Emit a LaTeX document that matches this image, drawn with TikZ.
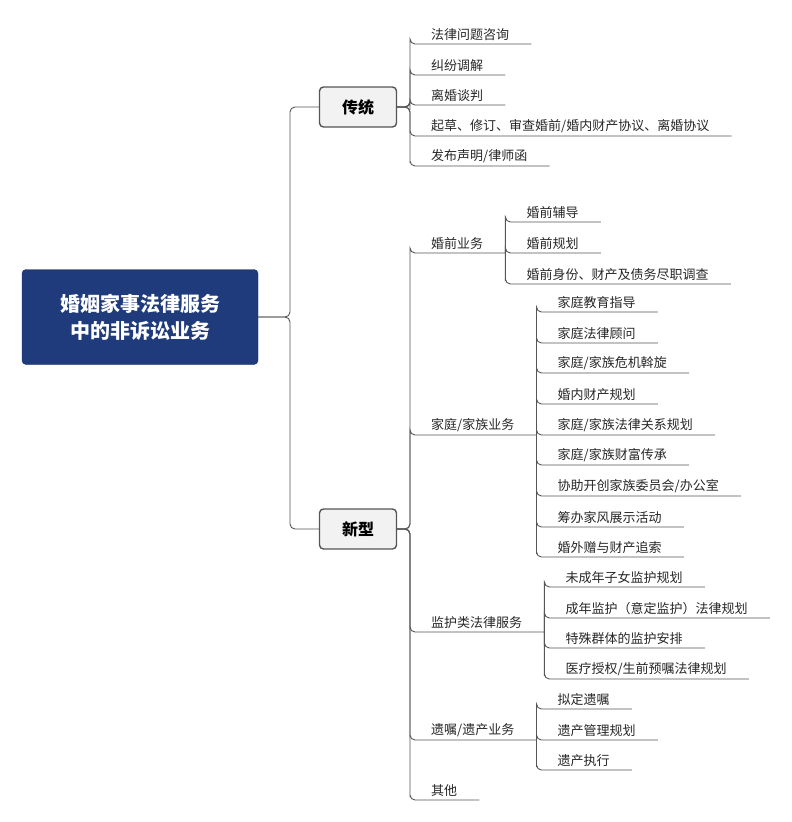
\documentclass[tikz,border=0pt]{standalone}
\usepackage{fontspec}
\setmainfont{Noto Sans CJK SC}
\usetikzlibrary{positioning}
\definecolor{rootblue}{HTML}{1F3B7B}
\definecolor{linegray}{HTML}{555555}
\definecolor{boxfill}{HTML}{F2F2F2}
\tikzset{
  rootbox/.style={draw=rootblue!80!black, fill=rootblue, rounded corners=4pt, text=white,
    font=\fontsize{20}{27}\selectfont\bfseries, align=center, minimum width=236pt, minimum height=95pt},
  mainbox/.style={draw=linegray, fill=boxfill, line width=1.4pt, rounded corners=4pt,
    font=\fontsize{16}{18}\selectfont\bfseries, minimum width=77pt, minimum height=40pt},
  item/.style={anchor=south west, inner xsep=0pt, inner ysep=3pt, text=black!85,
    font=\fontsize{13}{15}\selectfont,
    execute at begin node=\hspace{21pt}, execute at end node=\hspace{22pt}},
  conn/.style={draw=linegray, line width=0.9pt, rounded corners=5pt}
}
\begin{document}
\begin{tikzpicture}[x=1pt,y=-1pt]
      \useasboundingbox (0,0) rectangle (792,822);
      % root and main branches
      \node[rootbox] (root) at (140,317) {婚姻家事法律服务\\中的非诉讼业务};
      \node[mainbox] (ct) at (358,107) {传统};
      \node[mainbox] (xx) at (358,529) {新型};

      \draw[conn] (root.east) -- (290,317) |- (ct.west);
      \draw[conn] (root.east) -- (290,317) |- (xx.west);

      % traditional items
      \node[item] (t1) at (410,44) {法律问题咨询};
      \node[item] (t2) at (410,75) {纠纷调解};
      \node[item] (t3) at (410,105) {离婚谈判};
      \node[item] (t4) at (410,136) {起草、修订、审查婚前/婚内财产协议、离婚协议};
      \node[item] (t5) at (410,166) {发布声明/律师函};

      \foreach \c in {t1,t2,t3,t4,t5}
        \draw[conn] (ct.east) -- (410,107) |- (\c.south west) -- (\c.south east);

      % new items
      \node[item] (hq) at (410,253) {婚前业务};
      \node[item] (jt) at (410,435) {家庭/家族业务};
      \node[item] (jh) at (410,632) {监护类法律服务};
      \node[item] (yz) at (410,740) {遗嘱/遗产业务};
      \node[item] (qt) at (410,800) {其他};

      \foreach \c in {hq,jt,jh,yz,qt}
        \draw[conn] (xx.east) -- (410,529) |- (\c.south west) -- (\c.south east);

      % premarital
      \node[item] (hq1) at ([yshift=31]hq.south east) {婚前辅导};
      \node[item] (hq2) at (hq.south east) {婚前规划};
      \node[item] (hq3) at ([yshift=-31]hq.south east) {婚前身份、财产及债务尽职调查};
      \foreach \c in {hq1,hq2,hq3}
        \draw[conn] (hq.south east) |- (\c.south west) -- (\c.south east);

      % family
      \node[item] (jt1) at ([yshift=123]jt.south east) {家庭教育指导};
      \node[item] (jt2) at ([yshift=92]jt.south east) {家庭法律顾问};
      \node[item] (jt3) at ([yshift=62]jt.south east) {家庭/家族危机斡旋};
      \node[item] (jt4) at ([yshift=31]jt.south east) {婚内财产规划};
      \node[item] (jt5) at (jt.south east) {家庭/家族法律关系规划};
      \node[item] (jt6) at ([yshift=-30]jt.south east) {家庭/家族财富传承};
      \node[item] (jt7) at ([yshift=-61]jt.south east) {协助开创家族委员会/办公室};
      \node[item] (jt8) at ([yshift=-92]jt.south east) {筹办家风展示活动};
      \node[item] (jt9) at ([yshift=-122]jt.south east) {婚外赠与财产追索};
      \foreach \c in {jt1,jt2,jt3,jt4,jt5,jt6,jt7,jt8,jt9}
        \draw[conn] (jt.south east) |- (\c.south west) -- (\c.south east);

      % guardianship
      \node[item] (jh1) at ([yshift=45]jh.south east) {未成年子女监护规划};
      \node[item] (jh2) at ([yshift=14]jh.south east) {成年监护（意定监护）法律规划};
      \node[item] (jh3) at ([yshift=-16]jh.south east) {特殊群体的监护安排};
      \node[item] (jh4) at ([yshift=-47]jh.south east) {医疗授权/生前预嘱法律规划};
      \foreach \c in {jh1,jh2,jh3,jh4}
        \draw[conn] (jh.south east) |- (\c.south west) -- (\c.south east);

      % wills
      \node[item] (yz1) at ([yshift=31]yz.south east) {拟定遗嘱};
      \node[item] (yz2) at (yz.south east) {遗产管理规划};
      \node[item] (yz3) at ([yshift=-30]yz.south east) {遗产执行};
      \foreach \c in {yz1,yz2,yz3}
        \draw[conn] (yz.south east) |- (\c.south west) -- (\c.south east);
\end{tikzpicture}
\end{document}
